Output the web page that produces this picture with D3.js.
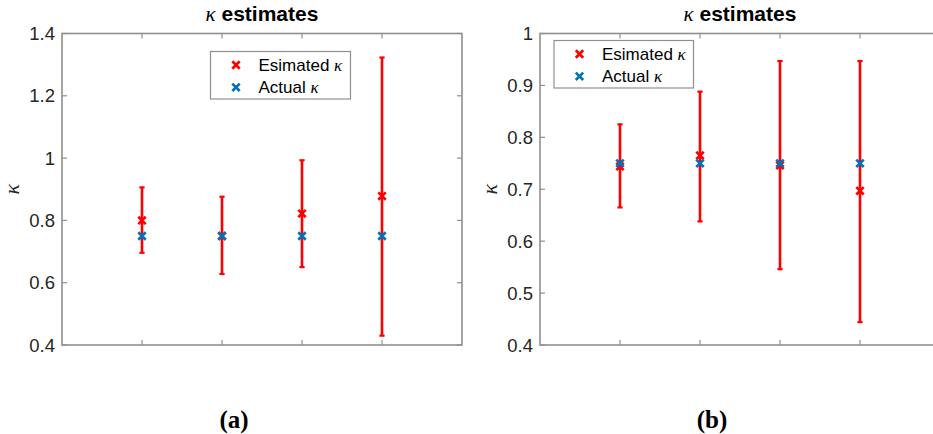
<!DOCTYPE html>
<html>
<head>
<meta charset="utf-8">
<script src="https://cdn.jsdelivr.net/npm/d3@7"></script>
<style>
  html, body { margin: 0; padding: 0; background: #fff; }
  svg { display: block; }
</style>
</head>
<body>
<svg id="chart" width="933" height="434"></svg>
<script>
// Experiment index on the x axis
const categories = [1, 2, 3, 4];

// Panel (a)
const estA    = [0.800, 0.750, 0.822, 0.878];
const lowA    = [0.696, 0.628, 0.650, 0.430];
const highA   = [0.906, 0.876, 0.993, 1.323];
const actualA = [0.75, 0.75, 0.75, 0.75];
const ticksA  = [0.4, 0.6, 0.8, 1.0, 1.2, 1.4];

// Panel (b)
const estB    = [0.744, 0.765, 0.746, 0.697];
const lowB    = [0.665, 0.638, 0.546, 0.444];
const highB   = [0.825, 0.888, 0.947, 0.947];
const actualB = [0.75, 0.75, 0.75, 0.75];
const ticksB  = [0.4, 0.5, 0.6, 0.7, 0.8, 0.9, 1.0];

const svg = d3.select("#chart");
const RED = "#ff0000", BLUE = "#0072bd", AXIS = "#8f8f8f", TXT = "#262626";

function xMarker(g, x, y, color) {
  const s = 3.7;
  g.append("path")
    .attr("d", `M${x - s},${y - s}L${x + s},${y + s}M${x - s},${y + s}L${x + s},${y - s}`)
    .attr("stroke", color).attr("stroke-width", 2.7).attr("fill", "none");
}

function panel(opt) {
  const { left, top, width, height, yDomain, ticks, est, low, high, actual, legend, caption } = opt;
  const g = svg.append("g");
  const x = d3.scaleLinear().domain([0, 5]).range([left, left + width]);
  const y = d3.scaleLinear().domain(yDomain).range([top + height, top]);
  const fmt = d => (d === 1 ? "1" : d3.format(".1f")(d));

  // tick marks on all four sides (inward)
  const tl = 5;
  const tickG = g.append("g").attr("stroke", AXIS).attr("stroke-width", 1.2);
  categories.forEach(c => {
    tickG.append("line").attr("x1", x(c)).attr("x2", x(c)).attr("y1", top + height).attr("y2", top + height - tl);
    tickG.append("line").attr("x1", x(c)).attr("x2", x(c)).attr("y1", top).attr("y2", top + tl);
  });
  ticks.forEach(t => {
    tickG.append("line").attr("x1", left).attr("x2", left + tl).attr("y1", y(t)).attr("y2", y(t));
    tickG.append("line").attr("x1", left + width).attr("x2", left + width - tl).attr("y1", y(t)).attr("y2", y(t));
  });

  // y tick labels
  g.append("g").selectAll("text").data(ticks).join("text")
    .attr("x", left - 7).attr("y", d => y(d))
    .attr("dy", "0.36em").attr("text-anchor", "end")
    .attr("font-family", "'Liberation Sans', Arial, sans-serif")
    .attr("font-size", 18.5).attr("fill", TXT)
    .text(fmt);

  // axes box
  g.append("rect").attr("x", left).attr("y", top).attr("width", width).attr("height", height)
    .attr("fill", "none").attr("stroke", AXIS).attr("stroke-width", 1.6);

  // error bars
  const cap = 2.6;
  categories.forEach((c, i) => {
    const cx = x(c);
    g.append("line").attr("x1", cx).attr("x2", cx).attr("y1", y(low[i])).attr("y2", y(high[i]))
      .attr("stroke", RED).attr("stroke-width", 2.6);
    [low[i], high[i]].forEach(v => {
      g.append("line").attr("x1", cx - cap).attr("x2", cx + cap).attr("y1", y(v)).attr("y2", y(v))
        .attr("stroke", RED).attr("stroke-width", 2.2);
    });
    xMarker(g, cx, y(est[i]), RED);
  });
  categories.forEach((c, i) => xMarker(g, x(c), y(actual[i]), BLUE));

  // title
  const title = g.append("text").attr("x", left + width / 2).attr("y", 21)
    .attr("text-anchor", "middle").attr("font-size", 21).attr("fill", "#000");
  title.append("tspan").attr("font-family", "'Liberation Serif', 'Times New Roman', serif")
    .attr("font-style", "italic").text("κ");
  title.append("tspan").attr("font-family", "'Liberation Sans', Arial, sans-serif")
    .attr("font-weight", "bold").text(" estimates");

  // y label
  g.append("text")
    .attr("transform", `translate(${left - 43},${top + height / 2}) rotate(-90)`)
    .attr("text-anchor", "middle")
    .attr("font-family", "'Liberation Serif', 'Times New Roman', serif")
    .attr("font-style", "italic").attr("font-size", 22).attr("fill", TXT)
    .text("κ");

  // legend
  const L = legend;
  g.append("rect").attr("x", L.x).attr("y", L.y).attr("width", L.w).attr("height", L.h)
    .attr("fill", "#fff").attr("stroke", AXIS).attr("stroke-width", 1.2);
  const entries = [
    { label: "Esimated ", color: RED },
    { label: "Actual ", color: BLUE }
  ];
  entries.forEach((e, i) => {
    const ey = L.y + 13.5 + i * 22.3;
    xMarker(g, L.x + 25.5, ey, e.color);
    const t = g.append("text").attr("x", L.x + 48).attr("y", ey).attr("dy", "0.36em")
      .attr("font-size", 17).attr("fill", "#000");
    t.append("tspan").attr("font-family", "'Liberation Sans', Arial, sans-serif").text(e.label);
    t.append("tspan").attr("font-family", "'Liberation Serif', 'Times New Roman', serif")
      .attr("font-style", "italic").text("κ");
  });

  // caption
  g.append("text").attr("x", caption.x).attr("y", 419).attr("dy", "0.35em")
    .attr("text-anchor", "middle")
    .attr("font-family", "'Liberation Serif', 'Times New Roman', serif")
    .attr("font-weight", "bold").attr("font-size", 25).attr("fill", "#000")
    .text(caption.text);
}

panel({
  left: 62, top: 33.5, width: 400, height: 311.5,
  yDomain: [0.4, 1.4], ticks: ticksA,
  est: estA, low: lowA, high: highA, actual: actualA,
  legend: { x: 210.5, y: 51.5, w: 140, h: 47.5 },
  caption: { x: 234, text: "(a)" }
});

panel({
  left: 540, top: 33.5, width: 400, height: 311.5,
  yDomain: [0.4, 1.0], ticks: ticksB,
  est: estB, low: lowB, high: highB, actual: actualB,
  legend: { x: 554, y: 40.5, w: 139.5, h: 47.5 },
  caption: { x: 712, text: "(b)" }
});
</script>
</body>
</html>
